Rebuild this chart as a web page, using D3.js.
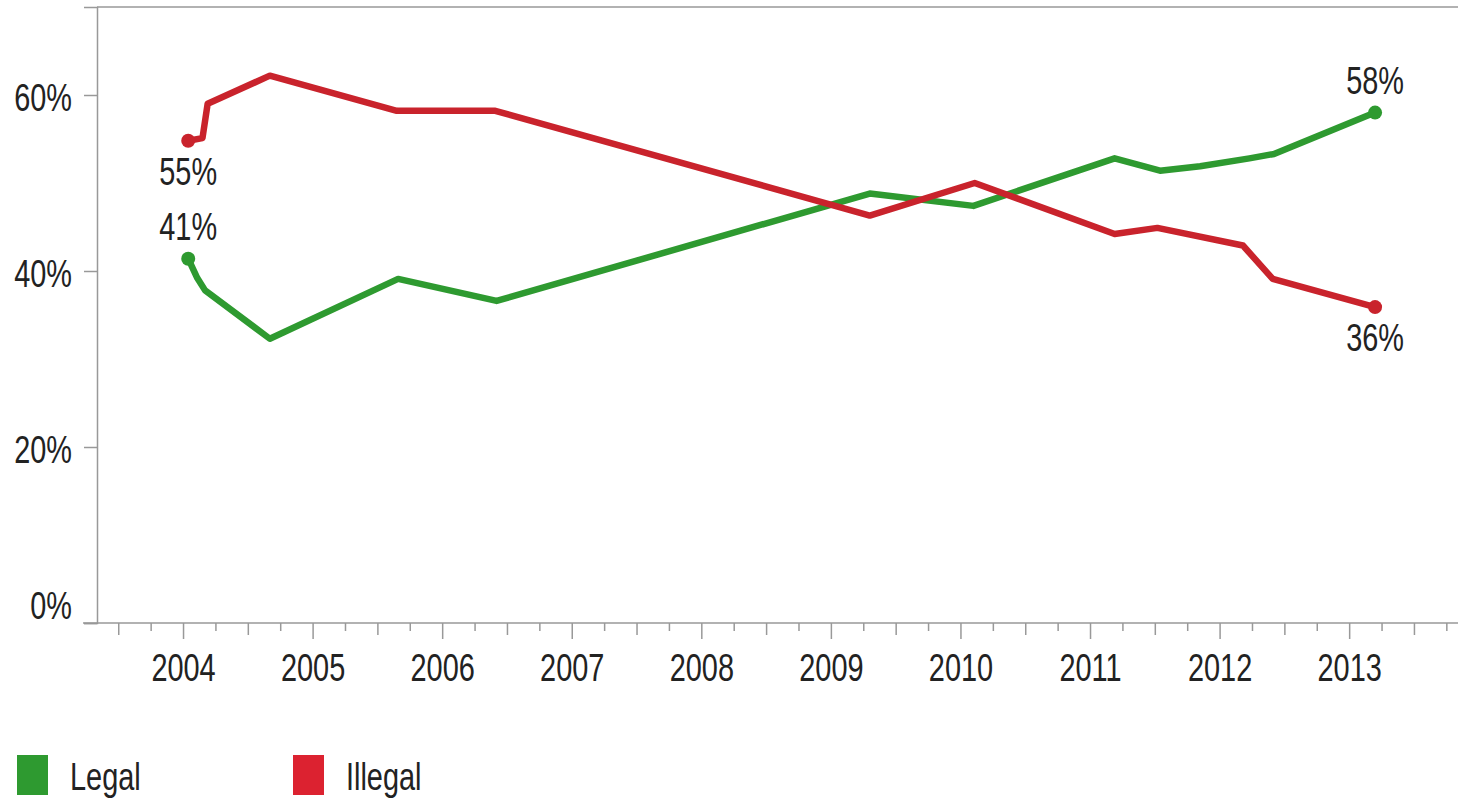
<!DOCTYPE html>
<html>
<head>
<meta charset="utf-8">
<script src="https://cdn.jsdelivr.net/npm/d3@7"></script>
<style>
  body { margin: 0; background: #fff; }
  text { font-family: "Liberation Sans", Arial, sans-serif; fill: #222; }
</style>
</head>
<body>
<div id="chart"></div>
<script>
// datos (año decimal, % de respuestas)
const legalYears   = [2004.04, 2004.11, 2004.17, 2004.67, 2005.66, 2006.42, 2009.30, 2010.10, 2011.19, 2011.54, 2011.85, 2012.23, 2012.42, 2013.20];
const legalValues  = [41.4, 39.2, 37.8, 32.3, 39.1, 36.6, 48.8, 47.4, 52.8, 51.4, 51.9, 52.8, 53.3, 58.0];

const illegalYears  = [2004.04, 2004.15, 2004.19, 2004.67, 2005.65, 2006.41, 2009.30, 2010.11, 2011.19, 2011.52, 2012.18, 2012.41, 2013.20];
const illegalValues = [54.8, 55.1, 59.0, 62.2, 58.2, 58.2, 46.3, 50.0, 44.2, 44.9, 42.9, 39.1, 35.9];

const yearLabels = [2004, 2005, 2006, 2007, 2008, 2009, 2010, 2011, 2012, 2013];
const yTicks     = [0, 20, 40, 60];

const seriesNames  = ["Legal", "Illegal"];
const lineColors   = ["#2e9a30", "#c9232c"];
const legendColors = ["#2e9a30", "#dc2230"];

// 1. dimensiones
const W = 1458, H = 801;
const margin = { top: 7, right: 0, bottom: 178, left: 97 };
const FONT = "38px";

const svg = d3.select("#chart").append("svg")
    .attr("width", W)
    .attr("height", H);

// 2. escalas
const x = d3.scaleLinear()
    .domain([2003.336, 2013.84])
    .range([margin.left, W - margin.right]);

const y = d3.scaleLinear()
    .domain([0, 70])
    .range([H - margin.bottom, margin.top]);

// 3. borde superior
svg.append("line")
    .attr("x1", margin.left).attr("x2", W)
    .attr("y1", margin.top).attr("y2", margin.top)
    .attr("stroke", "#999").attr("stroke-width", 1.5);

// 4. eje Y
const yAxis = svg.append("g")
    .attr("transform", `translate(${margin.left},0)`)
    .call(d3.axisLeft(y).tickValues(yTicks).tickFormat(d => d + "%").tickSize(13).tickPadding(12));
yAxis.select(".domain").attr("stroke", "#999").attr("stroke-width", 1.5);
yAxis.selectAll(".tick line").attr("stroke", "#999").attr("stroke-width", 1.5);
yAxis.selectAll(".tick text")
    .style("font-size", FONT)
    .attr("dy", d => d === 0 ? "-0.12em" : "0.4em");

// 5. eje X con marcas trimestrales
const quarterTicks = d3.range(2003.5, 2013.8, 0.25);
const xAxis = svg.append("g")
    .attr("transform", `translate(0,${y(0)})`)
    .call(d3.axisBottom(x).tickValues(quarterTicks).tickSizeOuter(0)
        .tickFormat(d => yearLabels.includes(d) ? d : ""));
xAxis.select(".domain")
    .attr("d", `M${margin.left - 14},0H${W}`)
    .attr("stroke", "#999").attr("stroke-width", 1.5);
xAxis.selectAll(".tick line")
    .attr("stroke", "#999").attr("stroke-width", 1.5)
    .attr("y2", d => Number.isInteger(d) ? 16 : (d % 1 === 0.5 ? 12 : 8));
xAxis.selectAll(".tick text")
    .style("font-size", FONT)
    .attr("y", 45)
    .attr("dy", "0.35em");

// 6. líneas
const series = [
  { name: seriesNames[0], data: legalYears.map((t, i) => ({ t, v: legalValues[i] })), color: lineColors[0] },
  { name: seriesNames[1], data: illegalYears.map((t, i) => ({ t, v: illegalValues[i] })), color: lineColors[1] }
];

const line = d3.line()
    .x(d => x(d.t))
    .y(d => y(d.v));

svg.selectAll("path.serie")
  .data(series)
  .enter()
  .append("path")
    .attr("class", "serie")
    .attr("fill", "none")
    .attr("stroke", d => d.color)
    .attr("stroke-width", 6.5)
    .attr("stroke-linejoin", "round")
    .attr("stroke-linecap", "round")
    .attr("d", d => line(d.data));

// 7. puntos y etiquetas en los extremos
const ends = [];
series.forEach(s => {
  const first = s.data[0], last = s.data[s.data.length - 1];
  const above = s.name === "Legal";
  ends.push({ p: first, color: s.color, above });
  ends.push({ p: last, color: s.color, above });
});

svg.selectAll("circle.end")
  .data(ends)
  .enter()
  .append("circle")
    .attr("class", "end")
    .attr("cx", d => x(d.p.t))
    .attr("cy", d => y(d.p.v))
    .attr("r", 7)
    .attr("fill", d => d.color);

svg.selectAll("text.endlabel")
  .data(ends)
  .enter()
  .append("text")
    .attr("class", "endlabel")
    .attr("x", d => x(d.p.t))
    .attr("y", d => y(d.p.v) + (d.above ? -32 : 31))
    .attr("dy", "0.35em")
    .attr("text-anchor", "middle")
    .style("font-size", FONT)
    .text(d => Math.round(d.p.v) + "%");

// 8. leyenda
const legend = svg.selectAll("g.legend")
  .data(seriesNames)
  .enter()
  .append("g")
    .attr("class", "legend")
    .attr("transform", (d, i) => `translate(${17 + i * 276},755)`);

legend.append("rect")
    .attr("width", 31)
    .attr("height", 40)
    .attr("fill", (d, i) => legendColors[i]);

legend.append("text")
    .attr("x", 53)
    .attr("y", 22)
    .attr("dy", "0.35em")
    .style("font-size", FONT)
    .text(d => d);

// 9. letra estrecha: comprimir el texto en horizontal
svg.selectAll("text").each(function () {
  const len = this.getComputedTextLength();
  if (len > 0) {
    this.setAttribute("textLength", (len * 0.76).toFixed(1));
    this.setAttribute("lengthAdjust", "spacingAndGlyphs");
  }
});
</script>
</body>
</html>
